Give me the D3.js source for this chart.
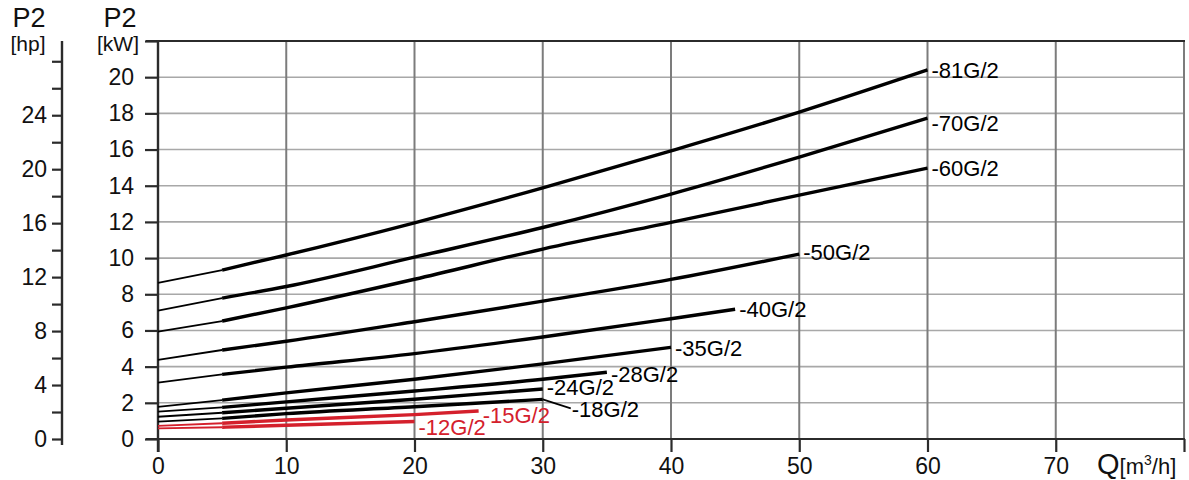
<!DOCTYPE html>
<html>
<head>
<meta charset="utf-8">
<script src="https://cdn.jsdelivr.net/npm/d3@7"></script>
<style>
  html, body { margin: 0; padding: 0; background: #fff; }
  svg { display: block; font-family: "Liberation Sans", Arial, Helvetica, sans-serif; }
</style>
</head>
<body>
<svg id="chart" width="1189" height="480"></svg>
<script>
// Pump models and their shaft power curves P2 [kW] against flow Q [m3/h]
const models = ["81G/2", "70G/2", "60G/2", "50G/2", "40G/2", "35G/2", "28G/2", "24G/2", "18G/2", "15G/2", "12G/2"];

const curve81 = [[0, 8.63], [5, 9.34], [10, 10.17], [20, 11.95], [30, 13.88], [40, 15.93], [50, 18.07], [60, 20.4]];
const curve70 = [[0, 7.1], [5, 7.79], [10, 8.43], [20, 10.05], [30, 11.69], [40, 13.54], [50, 15.58], [60, 17.73]];
const curve60 = [[0, 5.93], [5, 6.52], [10, 7.25], [20, 8.83], [30, 10.5], [40, 11.97], [50, 13.48], [60, 14.97]];
const curve50 = [[0, 4.37], [5, 4.92], [10, 5.4], [20, 6.48], [30, 7.62], [40, 8.82], [50, 10.22]];
const curve40 = [[0, 3.12], [5, 3.57], [10, 3.97], [20, 4.72], [30, 5.64], [40, 6.65], [45, 7.17]];
const curve35 = [[0, 1.78], [5, 2.15], [10, 2.55], [20, 3.3], [30, 4.15], [40, 5.07]];
const curve28 = [[0, 1.51], [5, 1.75], [10, 2.05], [20, 2.65], [30, 3.3], [35, 3.69]];
const curve24 = [[0, 1.23], [5, 1.45], [10, 1.7], [20, 2.2], [30, 2.76]];
const curve18 = [[0, 0.96], [5, 1.14], [10, 1.4], [20, 1.78], [30, 2.19]];
const curve15 = [[0, 0.72], [5, 0.87], [10, 1.05], [20, 1.35], [25, 1.55]];
const curve12 = [[0, 0.59], [5, 0.65], [10, 0.76], [20, 0.97]];

const curves = [curve81, curve70, curve60, curve50, curve40, curve35, curve28, curve24, curve18, curve15, curve12];
const highlighted = ["15G/2", "12G/2"];

// Axis tick values
const qTicks = [0, 10, 20, 30, 40, 50, 60, 70, 80];
const qTickLabels = ["0", "10", "20", "30", "40", "50", "60", "70", ""];
const kwTicks = [0, 2, 4, 6, 8, 10, 12, 14, 16, 18, 20, 22];
const kwTickLabels = ["0", "2", "4", "6", "8", "10", "12", "14", "16", "18", "20", ""];
const hpTicks = [0, 2, 4, 6, 8, 10, 12, 14, 16, 18, 20, 22, 24, 26, 28];
const hpTickLabels = ["0", "", "4", "", "8", "", "12", "", "16", "", "20", "", "24", "", ""];

const KW_PER_HP = 0.7457;
const THIN_END_Q = 5; // curves are drawn thin up to this flow

// Label nudges (pixels) for the model tags
const labelDy = { "70G/2": 5, "28G/2": 2, "24G/2": -2, "15G/2": 4, "12G/2": 6, "50G/2": -2, "35G/2": 1 };

const svg = d3.select("#chart");
const W = 1189, H = 480;
const plotL = 158, plotR = 1184, plotT = 41, plotB = 439;

const x = d3.scaleLinear().domain([0, 80]).range([plotL, plotR]);
const y = d3.scaleLinear().domain([0, 22]).range([plotB, plotT]);
const yHp = d3.scaleLinear().domain([0, 22 / KW_PER_HP]).range([plotB, plotT]);

const RED = "#d4202c";
const AXIS = "#2b2b2b";
const FONT = "'Liberation Sans', Arial, sans-serif";
const TICK_FS = "23px";

svg.append("rect").attr("width", W).attr("height", H).attr("fill", "#fff");

// Grid: horizontal every 2 kW, vertical every 10 m3/h
const grid = svg.append("g");
grid.selectAll("line.h").data(kwTicks.filter(v => v > 0 && v < 22)).join("line")
  .attr("class", "h")
  .attr("x1", plotL).attr("x2", plotR)
  .attr("y1", d => y(d)).attr("y2", d => y(d))
  .attr("stroke", "#a8a8a8").attr("stroke-width", 1.6);
grid.selectAll("line.v").data(qTicks.filter(v => v > 0)).join("line")
  .attr("class", "v")
  .attr("x1", d => x(d)).attr("x2", d => x(d))
  .attr("y1", plotT).attr("y2", plotB)
  .attr("stroke", "#7c7c7c").attr("stroke-width", 2);

// Top frame line
svg.append("line").attr("x1", plotL - 12).attr("x2", plotR + 1)
  .attr("y1", plotT).attr("y2", plotT).attr("stroke", AXIS).attr("stroke-width", 2.2);

// kW axis
const kwAxis = svg.append("g").attr("transform", `translate(${plotL},0)`)
  .call(d3.axisLeft(y).tickValues(kwTicks).tickSize(13).tickPadding(11)
    .tickFormat((d, i) => kwTickLabels[i]));
kwAxis.select(".domain").remove();
kwAxis.selectAll(".tick line").attr("stroke", AXIS).attr("stroke-width", 2.2);
kwAxis.selectAll(".tick text").attr("fill", "#111").style("font-size", TICK_FS).style("font-family", FONT);
svg.append("line").attr("x1", plotL).attr("x2", plotL).attr("y1", plotT - 1).attr("y2", plotB + 13)
  .attr("stroke", AXIS).attr("stroke-width", 2.4);

// hp axis
const hpX = 62;
const hpAxis = svg.append("g").attr("transform", `translate(${hpX},0)`)
  .call(d3.axisLeft(yHp).tickValues(hpTicks).tickSize(10).tickPadding(5)
    .tickFormat((d, i) => hpTickLabels[i]));
hpAxis.select(".domain").remove();
hpAxis.selectAll(".tick line").attr("stroke", AXIS).attr("stroke-width", 2.2);
hpAxis.selectAll(".tick text").attr("fill", "#111").style("font-size", TICK_FS).style("font-family", FONT);
svg.append("line").attr("x1", hpX).attr("x2", hpX).attr("y1", plotT).attr("y2", plotB + 6)
  .attr("stroke", AXIS).attr("stroke-width", 2.4);

// Q axis
const qAxis = svg.append("g").attr("transform", `translate(0,${plotB})`)
  .call(d3.axisBottom(x).tickValues(qTicks).tickSize(13).tickPadding(6)
    .tickFormat((d, i) => qTickLabels[i]));
qAxis.select(".domain").remove();
qAxis.selectAll(".tick line").attr("stroke", AXIS).attr("stroke-width", 2.2);
qAxis.selectAll(".tick text").attr("fill", "#111").style("font-size", TICK_FS).style("font-family", FONT);
svg.append("line").attr("x1", plotL - 12).attr("x2", plotR + 1).attr("y1", plotB).attr("y2", plotB)
  .attr("stroke", AXIS).attr("stroke-width", 2.2);

// Axis titles
const titles = svg.append("g").attr("fill", "#111");
titles.append("text").attr("x", 29).attr("y", 27).attr("text-anchor", "middle")
  .style("font-size", "27px").text("P2");
titles.append("text").attr("x", 28).attr("y", 51).attr("text-anchor", "middle")
  .style("font-size", "21px").text("[hp]");
titles.append("text").attr("x", 120).attr("y", 27).attr("text-anchor", "middle")
  .style("font-size", "27px").text("P2");
titles.append("text").attr("x", 118).attr("y", 51).attr("text-anchor", "middle")
  .style("font-size", "21px").text("[kW]");
const qt = titles.append("text").attr("x", 1097).attr("y", 474);
qt.append("tspan").style("font-size", "29px").text("Q");
qt.append("tspan").style("font-size", "22px").text("[m");
qt.append("tspan").style("font-size", "14px").attr("dy", -9).text("3");
qt.append("tspan").style("font-size", "22px").attr("dy", 9).text("/h]");

// Power curves
const line = d3.line().x(d => x(d[0])).y(d => y(d[1])).curve(d3.curveMonotoneX);
const curveLayer = svg.append("g").attr("fill", "none").attr("stroke-linecap", "butt");
const tagLayer = svg.append("g");

models.forEach((m, i) => {
  const pts = curves[i];
  const col = highlighted.includes(m) ? RED : "#000";
  const thin = pts.filter(p => p[0] <= THIN_END_Q);
  const thick = pts.filter(p => p[0] >= THIN_END_Q);
  curveLayer.append("path").attr("d", line(thin)).attr("stroke", col).attr("stroke-width", 1.8);
  curveLayer.append("path").attr("d", line(thick)).attr("stroke", col).attr("stroke-width", 3.4);

  const end = pts[pts.length - 1];
  let lx = x(end[0]) + 4;
  let ly = y(end[1]) + (labelDy[m] || 0);
  if (m === "18G/2") {
    // leader line from the end of the curve to its tag
    const ex = x(end[0]), ey = y(end[1]);
    tagLayer.append("line").attr("x1", ex).attr("y1", ey).attr("x2", ex + 28).attr("y2", ey + 9)
      .attr("stroke", "#000").attr("stroke-width", 1.6);
    lx = ex + 29; ly = ey + 10;
  }
  tagLayer.append("text").attr("x", lx).attr("y", ly).attr("dy", "0.36em")
    .attr("fill", col).style("font-size", "22px").text("-" + m);
});
</script>
</body>
</html>
